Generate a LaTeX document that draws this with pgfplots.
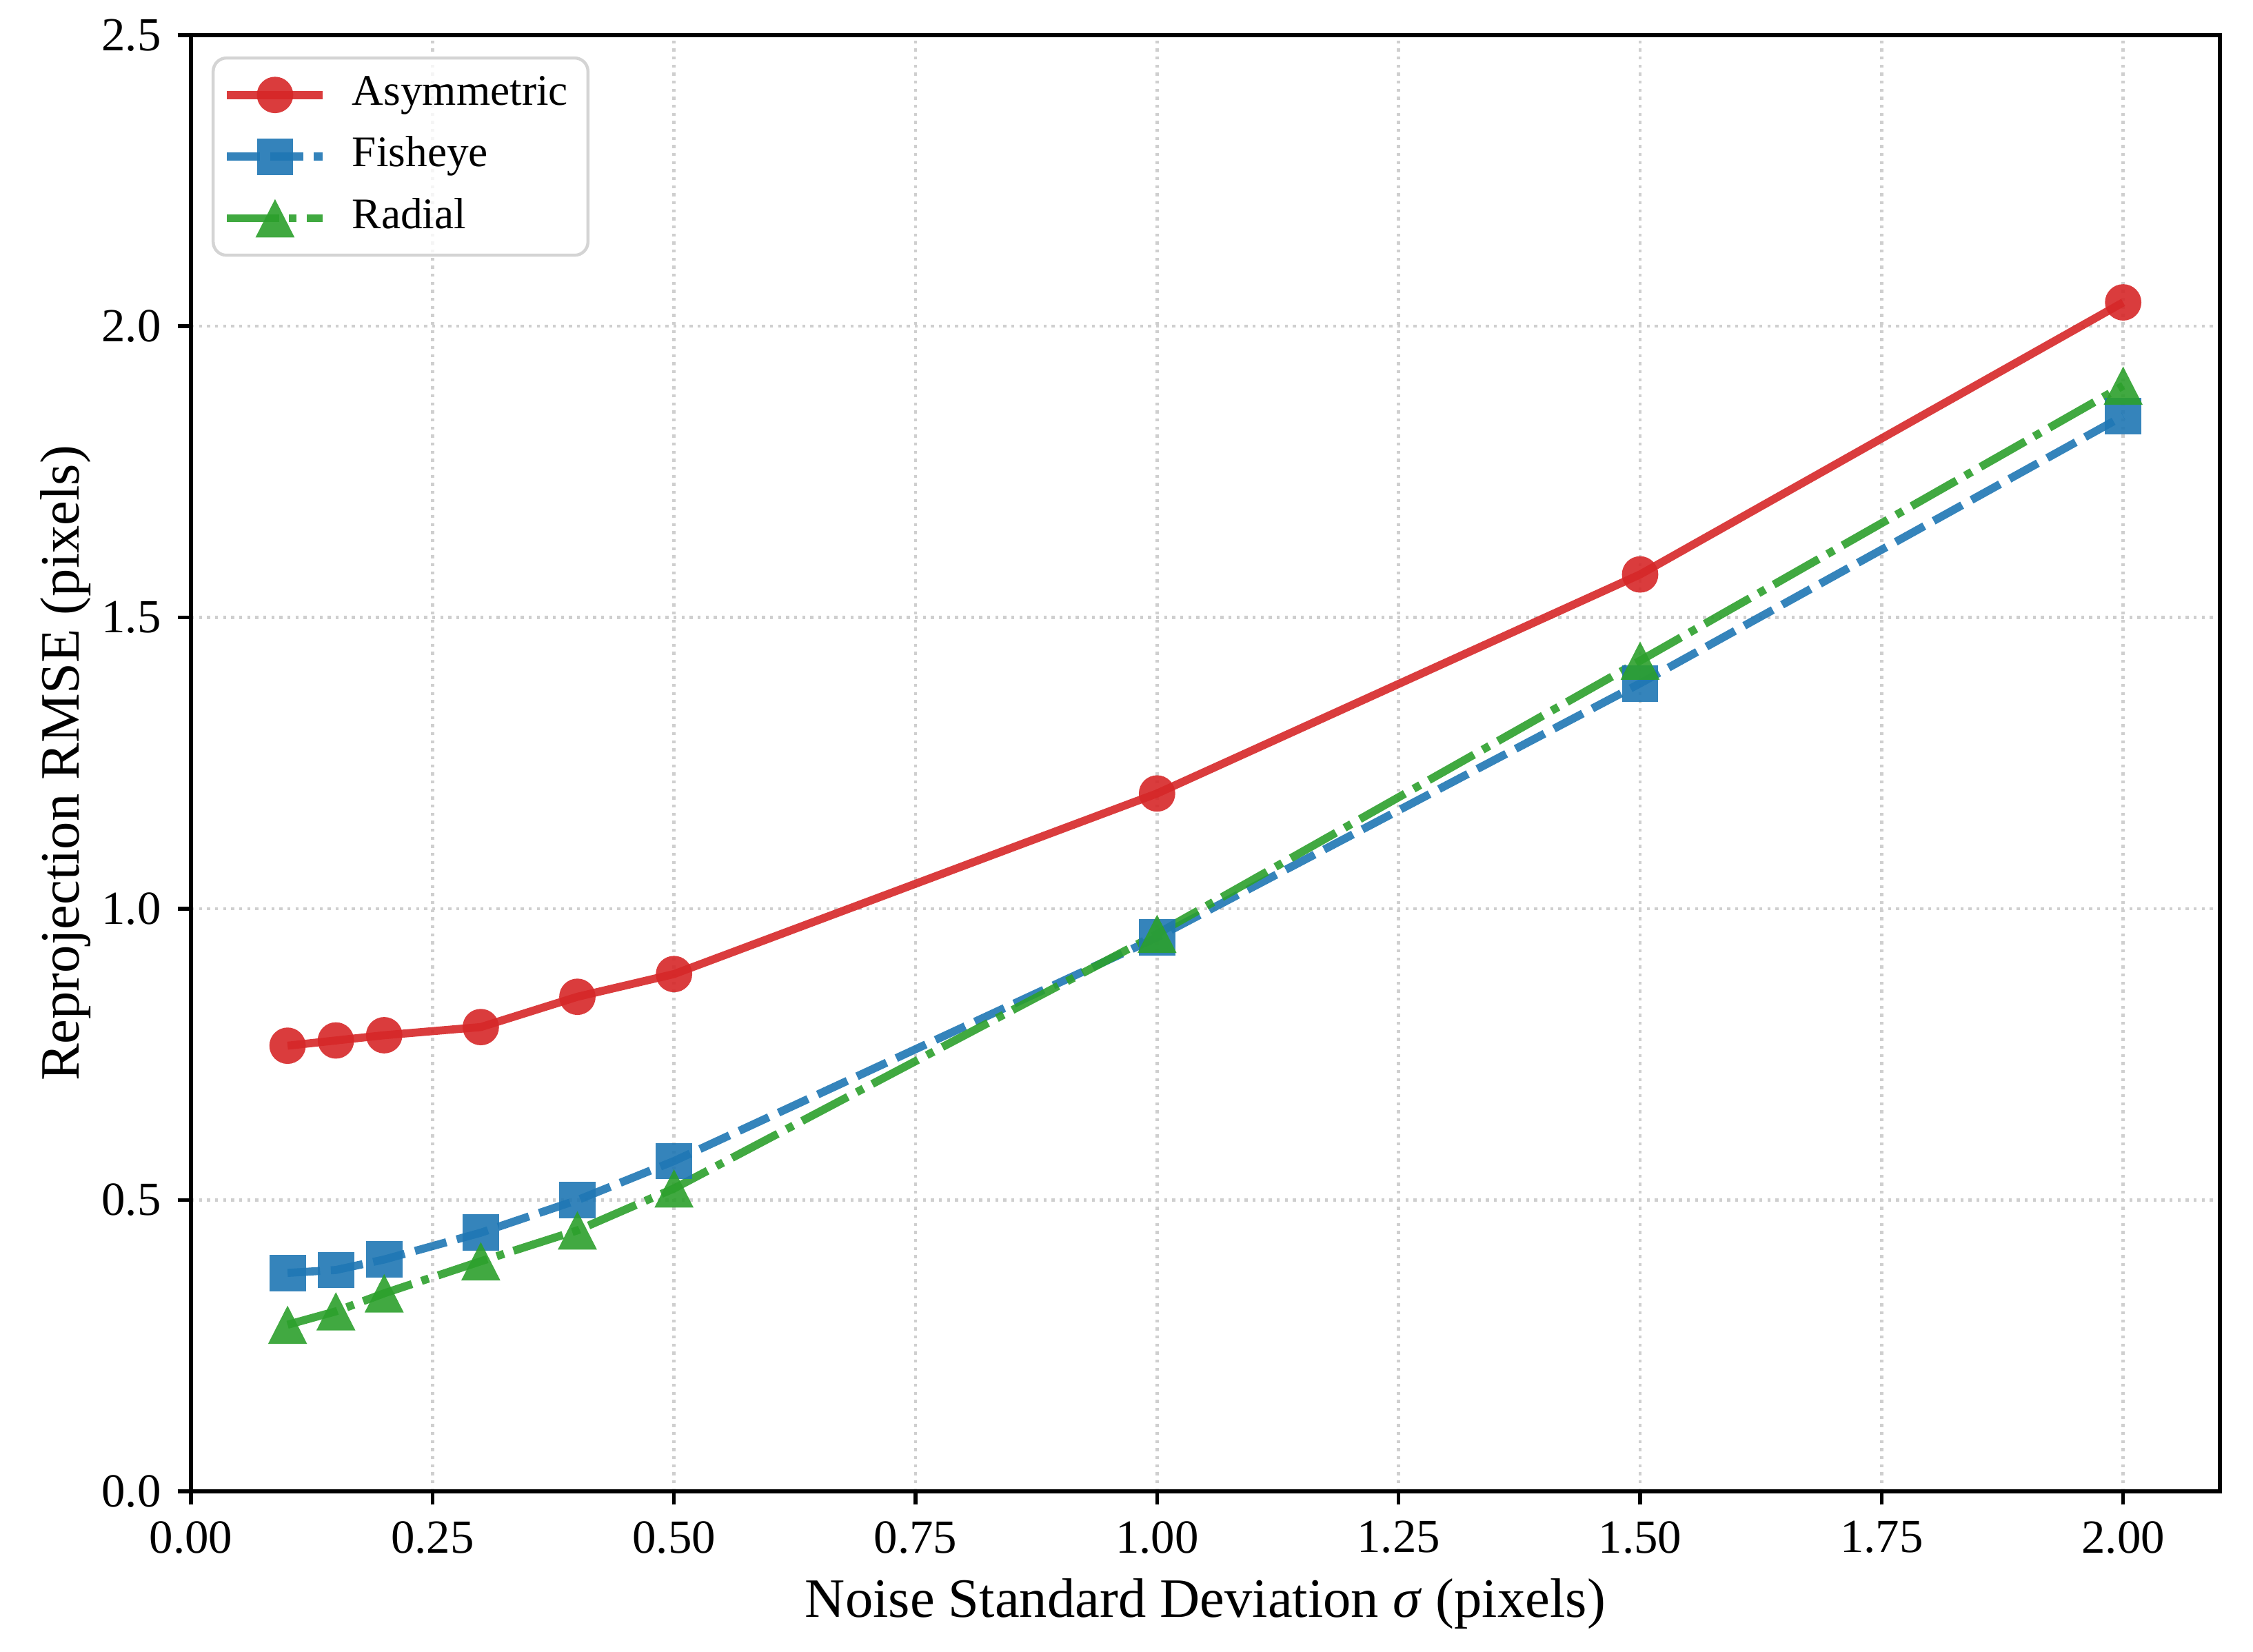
\documentclass[border=0pt]{standalone}
\usepackage{fontspec}
\setmainfont{Liberation Serif}
\usepackage{pgfplots}
\pgfplotsset{compat=1.18}
\definecolor{cred}{HTML}{D62728}
\definecolor{cblue}{HTML}{1F77B4}
\definecolor{cgreen}{HTML}{2CA02C}
\definecolor{gridgray}{HTML}{CFCFCF}
\definecolor{legframe}{HTML}{D4D4D4}

\pgfdeclareplotmark{mcirc}{\pgfpathcircle{\pgfpointorigin}{4.75pt}\pgfusepathqfill}
\pgfdeclareplotmark{msq}{\pgfpathrectangle{\pgfqpoint{-4.75pt}{-4.75pt}}{\pgfqpoint{9.5pt}{9.5pt}}\pgfusepathqfill}
\pgfdeclareplotmark{mtri}{\pgfpathmoveto{\pgfqpoint{0pt}{5pt}}\pgfpathlineto{\pgfqpoint{-5.1pt}{-5pt}}\pgfpathlineto{\pgfqpoint{5.1pt}{-5pt}}\pgfpathclose\pgfusepathqfill}

\begin{document}
\begin{tikzpicture}
\begin{axis}[
  name=ax, at={(0,0)}, anchor=south west,
  scale only axis, width=529.7pt, height=380.2pt,
  xmin=0, xmax=2.1, ymin=0, ymax=2.5,
  xtick={0,0.25,0.5,0.75,1,1.25,1.5,1.75,2},
  ytick={0,0.5,1,1.5,2,2.5},
  xtick pos=bottom, ytick pos=left,
  tick align=outside, major tick length=3.5pt,
  every tick/.style={black, line width=1pt},
  axis line style={line width=1pt},
  /pgf/number format/assume math mode=true,
  xticklabel style={/pgf/number format/.cd, fixed, fixed zerofill, precision=2},
  yticklabel style={/pgf/number format/.cd, fixed, fixed zerofill, precision=1},
  ticklabel style={font=\fontsize{12.4}{14}\selectfont, inner sep=0pt},
  xticklabel shift=4.1pt, yticklabel shift=4.1pt,
  grid=major,
  major grid style={color=gridgray, line width=0.8pt, dash pattern=on 0.8pt off 1.3pt},
  xlabel={Noise Standard Deviation \textit{σ} (pixels)},
  ylabel={Reprojection RMSE (pixels)},
  label style={font=\fontsize{14.5}{16}\selectfont, inner sep=0pt},
  xlabel style={at={(axis description cs:0.5,0)}, anchor=base, yshift=-32.8pt},
  ylabel style={at={(axis description cs:0,0.5)}, anchor=base, yshift=29.2pt},
  legend style={at={(axis description cs:0,1)}, anchor=north west, xshift=5.4pt, yshift=-5.6pt,
    draw=legframe, line width=0.8pt, rounded corners=3.5pt, fill=white, fill opacity=0.8, text opacity=1, draw opacity=1,
    font=\fontsize{11.4}{13}\selectfont, inner xsep=2.6pt, inner ysep=4.5pt, row sep=5.8pt, column sep=6.6pt,
    nodes={inner sep=0pt, text height=7.8pt, text depth=2.5pt}, cells={anchor=west}},
  legend image code/.code={\draw[mark repeat=2,mark phase=2] plot coordinates {(0pt,0pt)(12.5pt,0pt)(25pt,0pt)};},
]
\addplot[color=cred, opacity=0.9, line width=2.1pt, mark=mcirc, mark options={solid}] coordinates {
 (0.1,0.765)(0.15,0.774)(0.2,0.783)(0.3,0.797)(0.4,0.849)(0.5,0.888)(1.0,1.198)(1.5,1.574)(2.0,2.041)};
\addlegendentry{\mbox{Asymmetric\kern2.6pt}}
\addplot[color=cblue, opacity=0.9, line width=2.1pt, dash pattern=on 8.5pt off 2.8pt, mark=msq, mark options={solid}] coordinates {
 (0.1,0.375)(0.15,0.380)(0.2,0.398)(0.3,0.444)(0.4,0.500)(0.5,0.567)(1.0,0.951)(1.5,1.387)(2.0,1.846)};
\addlegendentry{Fisheye}
\addplot[color=cgreen, opacity=0.9, line width=2.1pt, dash pattern=on 13.5pt off 2.6pt on 2pt off 2.6pt, mark=mtri, mark options={solid}] coordinates {
 (0.1,0.286)(0.15,0.309)(0.2,0.340)(0.3,0.395)(0.4,0.448)(0.5,0.520)(1.0,0.957)(1.5,1.426)(2.0,1.898)};
\addlegendentry{Radial}
\end{axis}
\path (ax.south west) ++(-49.86pt,-41.76pt) rectangle ++(588.24pt,431.1pt);
\end{tikzpicture}
\end{document}
